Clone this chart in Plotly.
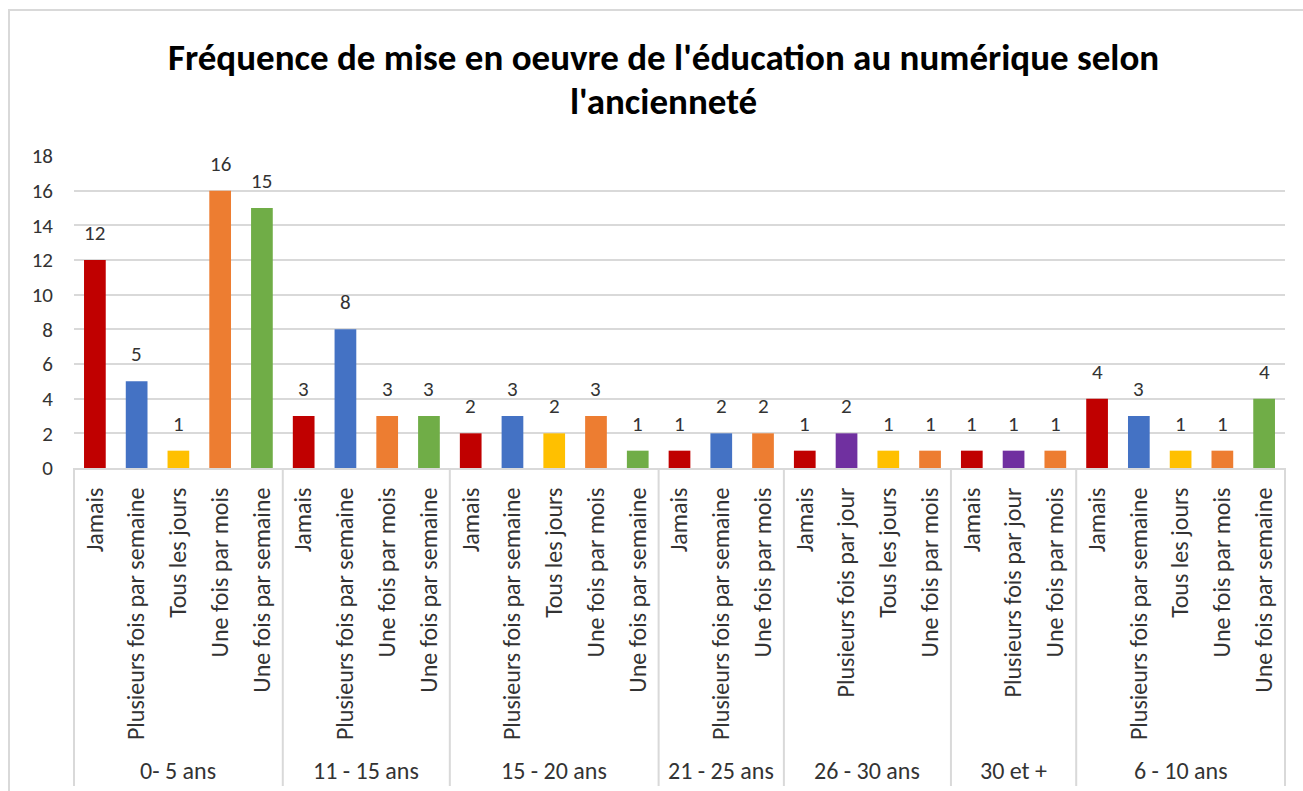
import plotly.graph_objects as go

# Tranches d'ancienneté et fréquences déclarées dans chacune
groupes = ["0- 5 ans", "11 - 15 ans", "15 - 20 ans", "21 - 25 ans",
           "26 - 30 ans", "30 et +", "6 - 10 ans"]

frequences = [
    ["Jamais", "Plusieurs fois par semaine", "Tous les jours", "Une fois par mois", "Une fois par semaine"],
    ["Jamais", "Plusieurs fois par semaine", "Une fois par mois", "Une fois par semaine"],
    ["Jamais", "Plusieurs fois par semaine", "Tous les jours", "Une fois par mois", "Une fois par semaine"],
    ["Jamais", "Plusieurs fois par semaine", "Une fois par mois"],
    ["Jamais", "Plusieurs fois par jour", "Tous les jours", "Une fois par mois"],
    ["Jamais", "Plusieurs fois par jour", "Une fois par mois"],
    ["Jamais", "Plusieurs fois par semaine", "Tous les jours", "Une fois par mois", "Une fois par semaine"],
]

effectifs = [
    [12, 5, 1, 16, 15],
    [3, 8, 3, 3],
    [2, 3, 2, 3, 1],
    [1, 2, 2],
    [1, 2, 1, 1],
    [1, 1, 1],
    [4, 3, 1, 1, 4],
]

y_ticks = [0, 2, 4, 6, 8, 10, 12, 14, 16, 18]

couleurs = {
    "Jamais": "#C00000",
    "Plusieurs fois par semaine": "#4472C4",
    "Tous les jours": "#FFC000",
    "Une fois par mois": "#ED7D31",
    "Une fois par semaine": "#70AD47",
    "Plusieurs fois par jour": "#7030A0",
}

# Aplatissement en une série de barres
labels, valeurs, groupe_de = [], [], []
for g, freqs, vals in zip(groupes, frequences, effectifs):
    labels += freqs
    valeurs += vals
    groupe_de += [g] * len(freqs)
positions = list(range(len(labels)))
n = len(labels)

FONT = "Carlito, Calibri, Lato, sans-serif"
TXT = "#333333"
GRID = "#d9d9d9"

W, H = 1303, 791
PX_L, PX_R, PX_T, PX_B = 74, 1285, 156, 468


def px_x(p):
    return (p - PX_L) / (PX_R - PX_L)


def px_y(p):
    return (PX_B - p) / (PX_B - PX_T)


fig = go.Figure(
    go.Bar(
        x=positions,
        y=valeurs,
        width=0.52,
        marker=dict(color=[couleurs[l] for l in labels], line=dict(width=0)),
        hovertext=[f"{g} – {l}" for g, l in zip(groupe_de, labels)],
    )
)

annotations = []
# Étiquettes de valeur au-dessus des barres
for x, v in zip(positions, valeurs):
    annotations.append(dict(
        x=x, y=v, xref="x", yref="y", text=str(v), showarrow=False,
        yanchor="bottom", yshift=12, font=dict(family=FONT, size=21, color=TXT),
    ))

# Libellés des tranches d'ancienneté et séparateurs
shapes = []
start = 0
bornes = [0]
for g, freqs in zip(groupes, frequences):
    end = start + len(freqs)
    annotations.append(dict(
        x=(start + end - 1) / 2, y=px_y(770), xref="x", yref="paper",
        text=g, showarrow=False, yanchor="middle",
        font=dict(family=FONT, size=24, color=TXT),
    ))
    bornes.append(end)
    start = end

for b in bornes:
    xp = b / n
    shapes.append(dict(
        type="line", xref="paper", yref="paper", x0=xp, x1=xp,
        y0=0, y1=px_y(786), line=dict(color=GRID, width=2),
    ))

# Cadre du graphique
shapes.append(dict(
    type="rect", xref="paper", yref="paper",
    x0=px_x(9), x1=px_x(1340), y0=px_y(10), y1=px_y(830),
    line=dict(color=GRID, width=2), layer="below",
))

# Titre sur deux lignes
annotations.append(dict(
    x=px_x(663), y=px_y(57), xref="paper", yref="paper", showarrow=False,
    text="<b>Fréquence de mise en oeuvre de l'éducation au numérique selon</b>",
    yanchor="middle", font=dict(family=FONT, size=37, color="#000000"),
))
annotations.append(dict(
    x=px_x(663), y=px_y(102), xref="paper", yref="paper", showarrow=False,
    text="<b>l'ancienneté</b>",
    yanchor="middle", font=dict(family=FONT, size=37, color="#000000"),
))

fig.update_layout(
    width=W, height=H,
    margin=dict(l=PX_L, r=W - PX_R, t=PX_T, b=H - PX_B, pad=0),
    paper_bgcolor="white", plot_bgcolor="white",
    showlegend=False,
    bargap=0.48,
    annotations=annotations,
    shapes=shapes,
    xaxis=dict(
        range=[-0.5, n - 0.5],
        tickmode="array", tickvals=positions, ticktext=labels,
        tickangle=-90, tickfont=dict(family=FONT, size=24, color=TXT),
        showgrid=False, zeroline=False,
        showline=True, linecolor=GRID, linewidth=2,
        ticks="", ticklabelstandoff=8,
        fixedrange=True,
    ),
    yaxis=dict(
        range=[0, 18], tickmode="array", tickvals=y_ticks,
        tickfont=dict(family=FONT, size=21, color=TXT),
        showgrid=True, gridcolor=GRID, gridwidth=1.5,
        zeroline=False, showline=False, ticks="",
        ticklabelstandoff=20, fixedrange=True,
    ),
)

fig.write_html("out.html")
